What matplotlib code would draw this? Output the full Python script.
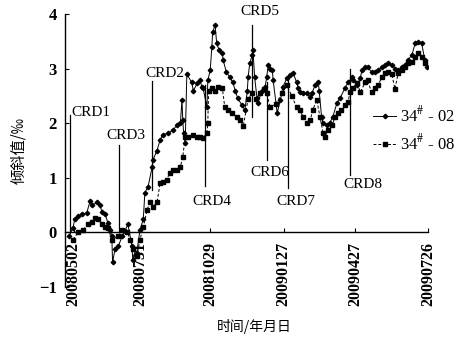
import numpy as np
import matplotlib
matplotlib.use('Agg')
import matplotlib.pyplot as plt

plt.rcParams['font.family'] = ['Liberation Serif', 'DejaVu Serif']
plt.rcParams['mathtext.fontset'] = 'stix'

# days since 20080502
days_02 = [5, 10, 12, 16, 21, 27, 31, 33, 40, 43, 46, 50, 53, 56, 58, 59, 62, 66, 71, 74,
           78, 83, 84, 89, 93, 97, 99, 103, 108, 109, 114, 118, 121, 128, 134, 139, 143, 145,
           146, 147, 149, 151, 157, 159, 164, 167, 170, 171, 176, 177, 180, 182, 183, 186,
           188, 191, 195, 196, 200, 204, 208, 211, 214, 219, 223, 226, 227, 229, 232, 233,
           235, 238, 239, 244, 248, 250, 252, 254, 257, 258, 263, 267, 270, 275, 279, 283,
           287, 289, 291, 295, 300, 304, 306, 310, 314, 315, 318, 320, 325, 328, 332, 337,
           341, 347, 351, 356, 357, 362, 366, 368, 372, 375, 380, 384, 388, 393, 397, 400,
           405, 409, 413, 418, 421, 425, 430, 434, 437, 442, 446, 449]
vals_02 = [-0.07, 0.09, 0.24, 0.30, 0.33, 0.36, 0.57, 0.50, 0.55, 0.50, 0.38, 0.33, 0.18, 0.05,
           -0.07, -0.55, -0.30, -0.25, -0.07, 0.02, 0.15, -0.25, -0.50, -0.37, 0.05, 0.24, 0.73,
           0.84, 1.20, 1.33, 1.50, 1.70, 1.79, 1.82, 1.88, 1.97, 2.00, 2.43, 2.06, 1.82, 1.64,
           2.90, 2.75, 2.60, 2.73, 2.79, 2.66, 2.65, 2.30, 2.79, 2.97, 3.40, 3.67, 3.80, 3.47,
           3.34, 3.28, 3.16, 2.94, 2.85, 2.75, 2.60, 2.46, 2.34, 2.24, 2.60, 2.85, 3.10, 3.25,
           3.34, 2.85, 2.46, 2.37, 2.60, 2.66, 2.85, 3.07, 3.00, 2.97, 2.79, 2.19, 2.43, 2.66,
           2.83, 2.88, 2.92, 2.75, 2.65, 2.57, 2.55, 2.55, 2.48, 2.55, 2.70, 2.75, 2.60, 2.12,
           2.00, 1.97, 2.00, 2.12, 2.37, 2.46, 2.65, 2.75, 2.85, 2.79, 2.70, 2.83, 2.97, 3.03,
           3.03, 2.94, 2.94, 2.97, 3.03, 3.07, 3.10, 3.07, 3.00, 2.97, 3.03, 3.07, 3.16, 3.25,
           3.47, 3.49, 3.47, 3.16, 3.03]

days_08 = [10, 16, 22, 29, 33, 37, 41, 46, 50, 53, 58, 66, 71, 77, 81, 84, 89, 93, 97, 102,
           105, 109, 114, 118, 121, 126, 130, 134, 139, 143, 146, 149, 152, 159, 164, 167, 171,
           176, 177, 178, 182, 186, 190, 195, 198, 202, 207, 213, 217, 221, 227, 232, 237, 242,
           247, 250, 254, 261, 269, 275, 281, 287, 291, 295, 300, 304, 307, 312, 316, 320, 322,
           326, 331, 335, 338, 342, 347, 351, 353, 357, 362, 366, 372, 375, 380, 384, 388, 393,
           397, 400, 405, 409, 413, 418, 421, 425, 430, 434, 437, 442, 446]
vals_08 = [-0.13, 0.00, 0.05, 0.15, 0.20, 0.27, 0.24, 0.15, 0.10, 0.09, -0.13, -0.07, 0.05, 0.00,
           -0.13, -0.30, -0.44, -0.13, 0.10, 0.42, 0.55, 0.47, 0.55, 0.91, 0.93, 0.97, 1.09,
           1.15, 1.15, 1.20, 1.39, 1.75, 1.75, 1.79, 1.75, 1.75, 1.73, 1.82, 2.00, 2.60, 2.65,
           2.60, 2.66, 2.65, 2.30, 2.24, 2.19, 2.12, 2.06, 1.95, 2.45, 2.55, 2.45, 2.55, 2.62,
           2.55, 2.30, 2.35, 2.55, 2.70, 2.50, 2.30, 2.24, 2.12, 2.00, 2.06, 2.24, 2.43, 2.12,
           1.82, 1.75, 1.88, 1.97, 2.12, 2.19, 2.24, 2.34, 2.39, 2.57, 2.65, 2.74, 2.57, 2.75,
           2.79, 2.57, 2.65, 2.70, 2.85, 2.92, 2.94, 2.90, 2.63, 2.92, 2.97, 3.03, 3.10, 3.12,
           3.21, 3.28, 3.21, 3.10]

tick_days = [11, 93, 180, 271, 360, 450]
tick_labels = ['20080502', '20080731', '20081029', '20090127', '20090427', '20090726']

crd_names = ['CRD1', 'CRD2', 'CRD3', 'CRD4', 'CRD5', 'CRD6', 'CRD7', 'CRD8']
crd_line_x = [6, 108, 67, 173, 232, 250, 276, 353]
crd_line_y0 = [0.0, 0.78, 0.0, 0.85, 2.12, 1.33, 0.82, 1.05]
crd_line_y1 = [2.15, 2.78, 1.60, 2.70, 3.80, 2.75, 2.85, 2.99]
crd_text_x = [32, 124, 76, 182, 242, 254, 286, 369]
crd_text_y = [2.19, 2.92, 1.77, 0.57, 4.04, 1.09, 0.57, 0.88]

fig = plt.figure(figsize=(4.59, 3.45), dpi=100)
ax = fig.add_axes([0.1416, 0.168, 0.791, 0.791])

ax.plot(days_02, vals_02, color='black', lw=0.7, marker='D', ms=2.3,
        label='34$^{\\#}$ - 02')
ax.plot(days_08, vals_08, color='black', lw=0.7, ls=(0, (3, 2)), marker='s', ms=2.3,
        label='34$^{\\#}$ - 08')

for name, lx, y0, y1, tx, ty in zip(crd_names, crd_line_x, crd_line_y0, crd_line_y1,
                                    crd_text_x, crd_text_y):
    ax.plot([lx, lx], [y0, y1], color='black', lw=0.9)
    ax.text(tx, ty, name, fontsize=11, ha='center', va='center', clip_on=False)

ax.set_xlim(0, 450)
ax.set_ylim(-1, 4)
ax.spines['top'].set_visible(False)
ax.spines['right'].set_visible(False)
ax.spines['bottom'].set_position(('data', 0))
ax.spines['left'].set_linewidth(1.0)
ax.spines['bottom'].set_linewidth(1.0)

ax.set_xticks(tick_days)
ax.set_xticklabels(tick_labels, rotation=90, fontsize=11.5, fontweight='bold')
ax.set_yticks([-1, 0, 1, 2, 3, 4])
ax.set_yticklabels(['\u22121', '0', '1', '2', '3', '4'], fontsize=12, fontweight='bold')
ax.tick_params(axis='x', direction='in', length=3, pad=7)
ax.tick_params(axis='y', direction='in', length=3, pad=6)

fig.text(0.555, 0.055, '时间/年月日', fontsize=10, ha='center', va='center',
         family=['Noto Sans CJK SC', 'DejaVu Sans'])
fig.text(0.04, 0.565, '倾斜值/‰', fontsize=11, ha='center', va='center', rotation=90,
         family=['Noto Sans CJK SC', 'DejaVu Sans'])

ax.legend(loc='upper left', bbox_to_anchor=(0.83, 0.69), frameon=False, fontsize=12,
          handlelength=1.4, handletextpad=0.2, labelspacing=0.5, borderaxespad=0)

fig.savefig('out.png', dpi=100, facecolor='white')
